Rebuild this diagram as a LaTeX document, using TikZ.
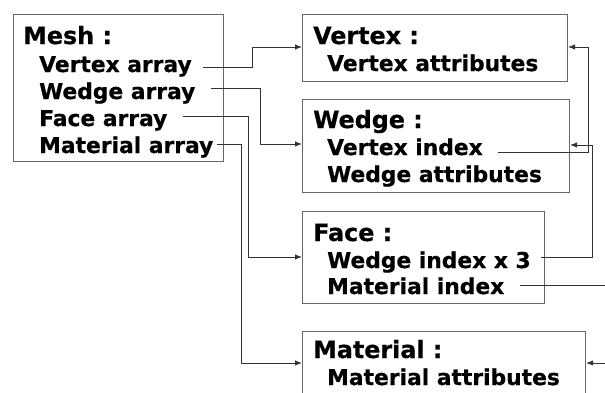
\documentclass[tikz,border=0pt]{standalone}
\usepackage{fontspec}
\setmainfont{DejaVu Sans}[BoldFeatures={FakeBold=0.6}]
\usetikzlibrary{arrows.meta}
\begin{document}
\begin{tikzpicture}[x=1pt,y=-1pt,
  box/.style={draw=black!60,line width=1.1pt,anchor=north west,inner sep=0pt},
  ttl/.style={anchor=base west,inner sep=0pt,font=\fontsize{23.8}{24}\selectfont\bfseries},
  itm/.style={anchor=base west,inner sep=0pt,font=\fontsize{21.8}{22}\selectfont\bfseries},
  conn/.style={draw=black!80,line width=0.9pt},
  arr/.style={conn,-{Latex[length=7pt,width=5.5pt]}}]
\clip (0,0) rectangle (605,392);
\fill[white] (0,0) rectangle (605,392);
% boxes
\node[box,minimum width=210pt,minimum height=147pt] (mesh) at (13,14) {};
\node[box,minimum width=265pt,minimum height=67pt] (vbox) at (302,14) {};
\node[box,minimum width=267pt,minimum height=93pt] (wbox) at (302,99) {};
\node[box,minimum width=242pt,minimum height=92pt] (fbox) at (302,211) {};
\node[box,minimum width=283pt,minimum height=80pt] (mbox) at (302,331) {};
% texts
\node[ttl] (mesh-t) at (23,44) {Mesh :};
\node[itm] (va) at (39,72) {Vertex array};
\node[itm] (wa) at (39,99) {Wedge array};
\node[itm] (fa) at (39,126) {Face array};
\node[itm] (ma) at (39,153) {Material array};
\node[ttl] (v-t) at (313,44) {Vertex :};
\node[itm] (vattr) at (327,71) {Vertex attributes};
\node[ttl] (w-t) at (313,128) {Wedge :};
\node[itm] (vi) at (327,155) {Vertex index};
\node[itm] (wattr) at (327,182) {Wedge attributes};
\node[ttl] (f-t) at (313,241) {Face :};
\node[itm] (wi) at (327,268) {Wedge index x 3};
\node[itm] (mi) at (327,294) {Material index};
\node[ttl] (m-t) at (313,358) {Material :};
\node[itm] (mattr) at (327,385) {Material attributes};
% connector ends
\coordinate (va-o) at (203,67);
\coordinate (wa-o) at (211,88);
\coordinate (fa-o) at (183,116);
\coordinate (ma-o) at (217,144);
\coordinate (vi-o) at (498,152);
\coordinate (wi-o) at (541,257);
\coordinate (mi-o) at (520,285);
\coordinate (mi-r) at (620,285);
\coordinate (mb-r) at (620,363);
% connectors
\draw[arr] (va-o) -- (252,67) -- (252,47) -- (vbox.west |- 0,47);
\draw[arr] (wa-o) -- (260,88) -- (260,144) -- (wbox.west |- 0,144);
\draw[arr] (fa-o) -- (248,116) -- (248,257) -- (fbox.west |- 0,257);
\draw[arr] (ma-o) -- (241,144) -- (241,363) -- (mbox.west |- 0,363);
\draw[arr] (vi-o) -- (588,152) -- (588,47) -- (vbox.east |- 0,47);
\draw[arr] (wi-o) -- (592,257) -- (592,145) -- (wbox.east |- 0,145);
\draw[conn] (mi-o) -- (mi-r);
\draw[arr] (mi-r) -- (mb-r) -- (mbox.east |- 0,363);
\end{tikzpicture}
\end{document}
